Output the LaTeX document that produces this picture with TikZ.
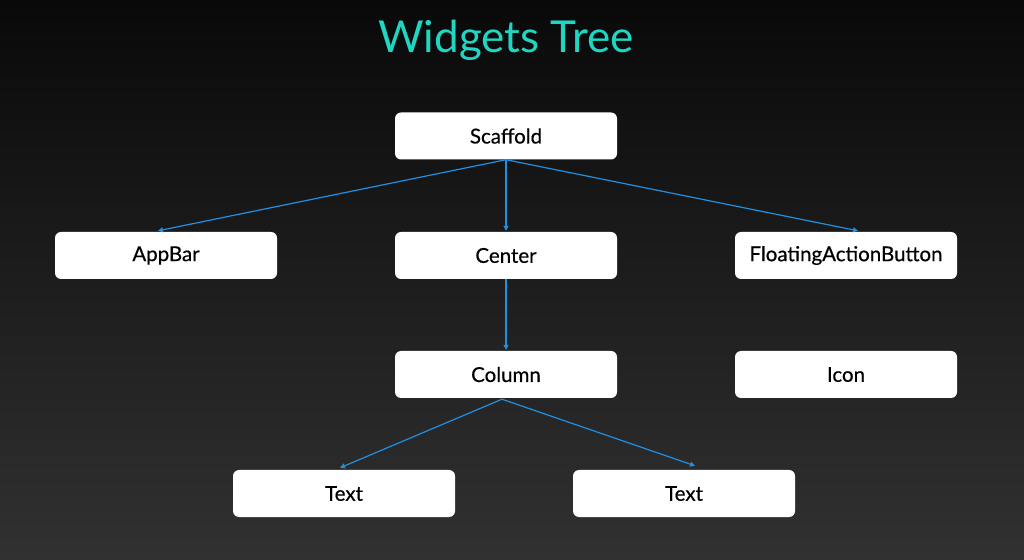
\documentclass[tikz,border=0pt]{standalone}
\usepackage{fontspec}
\usetikzlibrary{arrows.meta}
\setmainfont{Lato}
\newfontfamily\boxfont[FakeBold=0.5]{Lato}
\definecolor{bgtop}{HTML}{090909}
\definecolor{bgbot}{HTML}{313131}
\definecolor{titlec}{HTML}{1FD6C3}
\definecolor{arrowc}{HTML}{1E90E6}
\begin{document}
\begin{tikzpicture}[x=1pt,y=1pt,
  wbox/.style={draw=none,fill=white,rounded corners=6pt,minimum width=222pt,minimum height=47pt,inner sep=0pt,font=\boxfont\fontsize{20.5}{22}\selectfont,text=black},
  link/.style={draw=arrowc,line width=1.2pt,-{Triangle[length=5pt,width=5pt]}}]
\useasboundingbox (0,0) rectangle (1024,559);
\shade[top color=bgtop,bottom color=bgbot] (0,0) rectangle (1024,559);
\node[text=titlec,font=\fontsize{44}{48}\selectfont] (title) at (506,519) {Widgets Tree};
\node[wbox] (scaffold) at (506,423) {Scaffold};
\node[wbox] (appbar) at (166,303.5) {AppBar};
\node[wbox] (center) at (506,303.5) {Center};
\node[wbox] (fab) at (846,303.5) {FloatingActionButton};
\node[wbox] (column) at (506,184.5) {Column};
\node[wbox] (icon) at (846,184.5) {Icon};
\node[wbox] (text1) at (344,65.5) {Text};
\node[wbox] (text2) at (684,65.5) {Text};
\draw[link] (scaffold.south) -- ([xshift=-8pt,yshift=1pt]appbar.north);
\draw[link] (scaffold.south) -- ([yshift=1pt]center.north);
\draw[link] (scaffold.south) -- ([xshift=12pt,yshift=1pt]fab.north);
\draw[link] (center.south) -- ([yshift=1pt]column.north);
\draw[link] ([xshift=-4pt,yshift=-1pt]column.south) -- ([xshift=-4pt,yshift=2pt]text1.north);
\draw[link] ([xshift=-4pt,yshift=-1pt]column.south) -- ([xshift=11pt,yshift=4pt]text2.north);
\end{tikzpicture}
\end{document}
